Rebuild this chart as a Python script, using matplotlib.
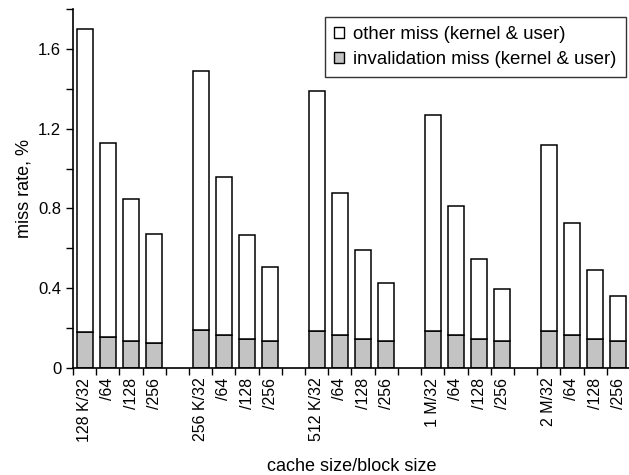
import numpy as np
import matplotlib
matplotlib.use("Agg")
import matplotlib.pyplot as plt
from matplotlib.patches import Patch

plt.rcParams["font.family"] = ["Liberation Sans", "DejaVu Sans"]

cache_sizes = ["128 K", "256 K", "512 K", "1 M", "2 M"]
block_sizes = ["32", "64", "128", "256"]

# total miss rate (%) per cache size, one value per block size
total_miss = [
    [1.70, 1.13, 0.845, 0.672],
    [1.49, 0.956, 0.667, 0.505],
    [1.388, 0.876, 0.59, 0.424],
    [1.268, 0.814, 0.546, 0.396],
    [1.12, 0.726, 0.492, 0.362],
]
invalidation_miss = [
    [0.182, 0.157, 0.137, 0.127],
    [0.189, 0.165, 0.144, 0.135],
    [0.188, 0.165, 0.145, 0.133],
    [0.188, 0.167, 0.145, 0.134],
    [0.188, 0.167, 0.145, 0.134],
]

fig = plt.figure(figsize=(6.29, 4.75), dpi=100)
ax = fig.add_axes([73 / 629, 107 / 475, 557 / 629, 359 / 475])

positions = []
labels = []
tops = []
inval = []
for g, size in enumerate(cache_sizes):
    for b, block in enumerate(block_sizes):
        positions.append(g * 5 + b)
        labels.append(f"{size}/{block}" if b == 0 else f"/{block}")
        tops.append(total_miss[g][b])
        inval.append(invalidation_miss[g][b])

positions = np.array(positions)
tops = np.array(tops)
inval = np.array(inval)

width = 0.69
gray = "#c3c3c3"
ax.bar(positions, inval, width, color=gray, edgecolor="black", linewidth=1.1)
ax.bar(positions, tops - inval, width, bottom=inval, color="white",
       edgecolor="black", linewidth=1.1)

ax.set_xlim(-0.5, 23.5)
ax.set_ylim(0, 1.8)

ax.set_xticks(positions)
ax.set_xticklabels(labels, rotation=90, va="top", ha="center")
ax.set_xticks(np.arange(-0.5, 24, 1.0), minor=True)
ax.tick_params(axis="x", which="major", length=0, pad=7, labelsize=11.5)
ax.tick_params(axis="x", which="minor", length=5, width=1, direction="out")

ax.set_yticks([0, 0.4, 0.8, 1.2, 1.6])
ax.set_yticklabels(["0", "0.4", "0.8", "1.2", "1.6"])
ax.set_yticks(np.arange(0, 1.81, 0.2), minor=True)
ax.tick_params(axis="y", which="both", length=5, width=1, direction="out",
               labelsize=12)

for side in ["top", "right"]:
    ax.spines[side].set_visible(False)
ax.spines["left"].set_linewidth(1.2)
ax.spines["bottom"].set_linewidth(1.2)

ax.set_ylabel("miss rate, %", fontsize=13, labelpad=4)
ax.set_xlabel("cache size/block size", fontsize=13, labelpad=12)

handles = [
    Patch(facecolor="white", edgecolor="black", linewidth=1),
    Patch(facecolor=gray, edgecolor="black", linewidth=1),
]
leg = ax.legend(handles, ["other miss (kernel & user)",
                          "invalidation miss (kernel & user)"],
                loc="upper right", bbox_to_anchor=(1.006, 1.0),
                fontsize=13.4, frameon=True, fancybox=False,
                handlelength=0.5, handleheight=0.5, handletextpad=0.5,
                borderpad=0.5, labelspacing=0.42, borderaxespad=0.42)
leg.get_frame().set_edgecolor("black")
leg.get_frame().set_linewidth(1.0)

fig.savefig("out.png", dpi=100)
